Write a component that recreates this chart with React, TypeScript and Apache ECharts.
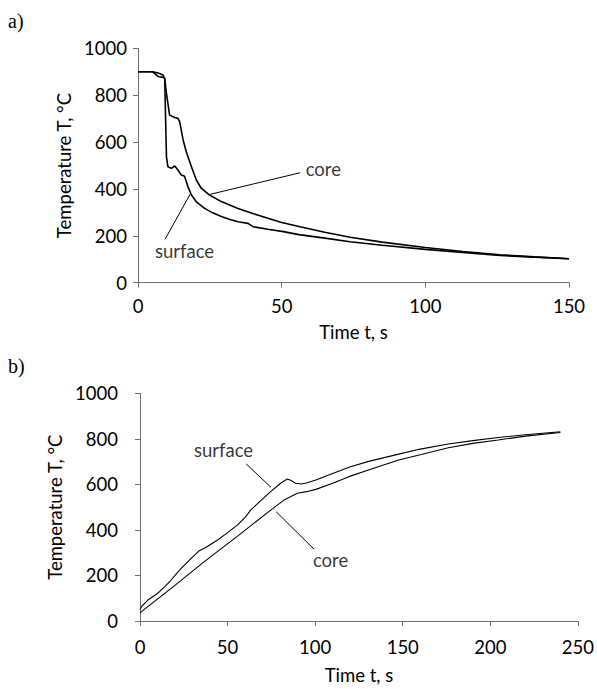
import React, { useEffect, useRef } from "react";
import * as echarts from "echarts";

// Chart a) cooling: [time s, temperature °C]
const coolingSurface: [number, number][] = [
  [0, 900], [5, 900], [7, 880], [8.7, 876], [9.3, 872], [9.6, 700], [9.9, 538], [10.4, 495],
  [11.6, 488], [12.8, 498], [13.9, 481], [15.1, 459], [16.2, 454], [17.4, 409], [18.6, 374],
  [20.3, 345], [23.2, 317], [26, 298], [29, 282], [32, 270], [34.8, 260], [38.3, 253],
  [40, 239], [45.2, 228], [50.6, 218], [56, 205], [65, 190], [73.8, 175],
  [85, 160], [100, 142], [113, 129], [126, 116], [138, 109], [150, 102],
];
const coolingCore: [number, number][] = [
  [0, 900], [5.2, 900], [7, 895], [8.7, 886], [9.3, 870], [9.9, 808], [11, 715], [12.8, 705],
  [13.9, 701], [14.5, 687], [15.7, 609], [16.8, 559], [18.6, 495], [20.3, 438], [22, 403],
  [24.9, 374], [29, 346], [34.8, 317], [40, 295], [45.2, 275], [50, 257],
  [56.4, 239], [65, 215], [73.8, 194], [85, 173], [100, 150], [113, 133], [126, 119],
  [138, 110], [150, 102],
];

// Chart b) heating: [time s, temperature °C]
const heatingSurface: [number, number][] = [
  [0, 50], [0.8, 63], [4.5, 92], [10.2, 122], [14, 150], [17.8, 180], [20, 200], [23.5, 231],
  [26, 250], [29.2, 275], [33.9, 309], [38, 325], [44.3, 356], [50, 388], [55.7, 422],
  [60, 455], [63.2, 487], [68, 522], [74.6, 568], [80.3, 605], [84.1, 624], [86, 618],
  [88.8, 605], [92, 602], [95, 606], [100.4, 619], [110, 648], [119.3, 675], [130, 700],
  [147.7, 733], [160, 755], [176, 777], [190, 792], [204.5, 806], [220, 818], [240, 831],
];
const heatingCore: [number, number][] = [
  [0, 37], [0.8, 41], [17.8, 143], [36.7, 261], [55.7, 373], [74.6, 487], [82.2, 531],
  [89.8, 561], [95, 568], [100.4, 578], [110, 605], [119.3, 634], [130, 662], [147.7, 707],
  [160, 730], [176, 761], [190, 780], [204.5, 795], [220, 812], [240, 828],
];

// Tick settings
const yTicksMax = 1000;
const yTickStep = 200;
const xMaxA = 150;
const xMaxB = 250;
const xTickStep = 50;

// Annotations (data units): label text, label anchor, leader line ends
const annotationsA = [
  { name: "core", at: [64.5, 487], line: [[25.1, 377], [56.4, 469]] },
  { name: "surface", at: [16.2, 137], line: [[9.4, 185], [18.3, 381]] },
];
const annotationsB = [
  { name: "surface", at: [47.7, 751], line: [[60.6, 690], [74.8, 587]] },
  { name: "core", at: [108.8, 266], line: [[77.7, 480], [99.4, 315]] },
];

const FONT = "Lato";
const FS = 18.5;
const TEXT_COLOR = "#000";
const AXIS_COLOR = "#6e6e6e";

function App() {
  const ref = useRef<HTMLDivElement>(null);
  useEffect(() => {
    if (!ref.current) return;
    const chart = echarts.init(ref.current, undefined, { renderer: "svg" });

    const xAxisBase = (gridIndex: number, max: number, margin: number, gap: number) => ({
      type: "value" as const,
      gridIndex,
      min: 0,
      max,
      interval: xTickStep,
      name: "Time t, s",
      nameLocation: "middle" as const,
      nameGap: gap,
      nameTextStyle: { fontFamily: FONT, fontSize: FS, color: TEXT_COLOR, fontWeight: "normal" as const },
      axisLine: { lineStyle: { color: AXIS_COLOR, width: 1 } },
      axisTick: { show: true, inside: false, length: 5, lineStyle: { color: AXIS_COLOR } },
      axisLabel: { fontFamily: FONT, fontSize: FS, color: TEXT_COLOR, margin, formatter: (v: number) => String(v) },
      splitLine: { show: false },
    });
    const yAxisBase = (gridIndex: number, margin: number, gap: number) => ({
      type: "value" as const,
      gridIndex,
      min: 0,
      max: yTicksMax,
      interval: yTickStep,
      name: "Temperature T, °C",
      nameLocation: "middle" as const,
      nameGap: gap,
      nameTextStyle: { fontFamily: FONT, fontSize: FS, color: TEXT_COLOR, fontWeight: "normal" as const },
      axisLine: { show: true, lineStyle: { color: AXIS_COLOR, width: 1 } },
      axisTick: { show: true, inside: false, length: 5, lineStyle: { color: AXIS_COLOR } },
      axisLabel: { fontFamily: FONT, fontSize: FS, color: TEXT_COLOR, margin, formatter: (v: number) => String(v) },
      splitLine: { show: false },
    });

    const lineSeries = (data: [number, number][], idx: number, width: number) => ({
      type: "line" as const,
      xAxisIndex: idx,
      yAxisIndex: idx,
      data,
      showSymbol: false,
      symbol: "none",
      lineStyle: { color: "#000", width },
      silent: true,
    });

    const annoSeries = (annos: typeof annotationsA, idx: number) => [
      {
        type: "scatter" as const,
        xAxisIndex: idx,
        yAxisIndex: idx,
        symbolSize: 1,
        itemStyle: { color: "rgba(0,0,0,0)" },
        silent: true,
        data: annos.map((a) => ({ name: a.name, value: a.at })),
        label: {
          show: true,
          position: "inside" as const,
          formatter: (p: any) => p.name,
          fontFamily: FONT,
          fontSize: FS,
          color: TEXT_COLOR,
        },
      },
      {
        type: "line" as const,
        xAxisIndex: idx,
        yAxisIndex: idx,
        data: [],
        silent: true,
        markLine: {
          symbol: "none",
          silent: true,
          label: { show: false },
          lineStyle: { color: "#000", width: 1, type: "solid" as const },
          data: annos.map((a) => [
            { coord: a.line[0] },
            { coord: a.line[1] },
          ]),
        },
      },
    ];

    chart.setOption({
      animation: false,
      backgroundColor: "#fff",
      grid: [
        { left: 138, top: 48.3, width: 431, height: 234.4, containLabel: false },
        { left: 140, top: 393.3, width: 440, height: 227.7, containLabel: false },
      ],
      xAxis: [xAxisBase(0, xMaxA, 14, 40), xAxisBase(1, xMaxB, 16, 44)],
      yAxis: [yAxisBase(0, 11, 57), yAxisBase(1, 22, 62)],
      graphic: [
        { type: "text", left: 8, top: 11, style: { text: "a)", font: "20px 'Liberation Serif'", fill: "#000" } },
        { type: "text", left: 8, top: 356, style: { text: "b)", font: "20px 'Liberation Serif'", fill: "#000" } },
      ],
      series: [
        lineSeries(coolingSurface, 0, 1.6),
        lineSeries(coolingCore, 0, 1.6),
        lineSeries(heatingSurface, 1, 1.1),
        lineSeries(heatingCore, 1, 1.1),
        ...annoSeries(annotationsA, 0),
        ...annoSeries(annotationsB, 1),
      ],
    });
    return () => chart.dispose();
  }, []);
  return (
    <div
      ref={ref}
      style={{ position: "absolute", left: 0, top: 0, width: 597, height: 689 }}
    />
  );
}

export default App;
